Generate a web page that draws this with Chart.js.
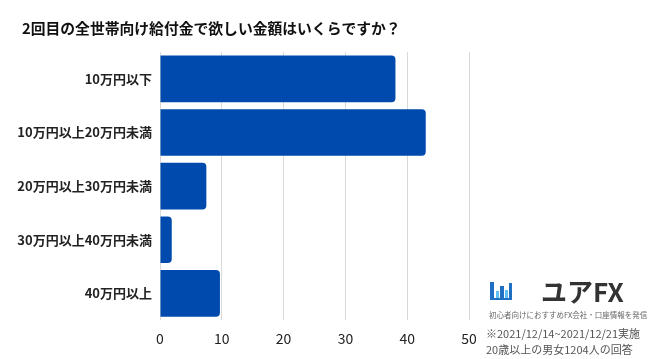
<!DOCTYPE html>
<html><head><meta charset="utf-8">
<script src="https://cdn.jsdelivr.net/npm/chart.js@4"></script>
<style>html,body{margin:0;padding:0;background:#fff}#wrap{width:650px;height:359px;position:relative}</style>
</head><body><div id="wrap"><canvas id="c" width="650" height="359"></canvas></div>
<script>
const categories = ["10万円以下","10万円以上20万円未満","20万円以上30万円未満","30万円以上40万円未満","40万円以上"];
const values = [38.1, 43.0, 7.5, 1.9, 9.7];
const xTicks = [0,10,20,30,40,50];
const titleText = "2回目の全世帯向け給付金で欲しい金額はいくらですか？";
const noteLines = ["※2021/12/14~2021/12/21実施","20歳以上の男女1204人の回答"];

const FONT = '"Noto Sans CJK JP","Noto Sans",sans-serif';

const deco = {
  id:'deco',
  afterDraw(chart){
    const ctx = chart.ctx;
    ctx.save();
    ctx.textBaseline = 'middle';
    ctx.textAlign = 'left';
    ctx.fillStyle = '#111';
    ctx.font = 'bold 14.8px ' + FONT;
    ctx.fillText(titleText, 22, 28);
    const dark = '#1f6fc2', light = '#5cc0f5';
    ctx.fillStyle = dark;
    ctx.fillRect(490,282,4,18);
    ctx.fillRect(490,298,22,2);
    ctx.fillStyle = light; ctx.fillRect(496,291,3,7);
    ctx.fillStyle = dark;  ctx.fillRect(500,286,4,12);
    ctx.fillStyle = light; ctx.fillRect(505,290,3,8);
    ctx.fillStyle = dark;  ctx.fillRect(509,283,3,15);
    ctx.fillStyle = '#333';
    ctx.font = 'bold 26px ' + FONT;
    ctx.fillText('ユアFX', 541, 292);
    ctx.font = '7.5px ' + FONT;
    ctx.fillStyle = '#666';
    ctx.fillText('初心者向けにおすすめFX会社・口座情報を発信', 489, 315);
    ctx.font = '11px ' + FONT;
    ctx.fillStyle = '#555';
    ctx.fillText(noteLines[0], 486, 334);
    ctx.fillText(noteLines[1], 486, 350);
    ctx.restore();
  }
};

new Chart(document.getElementById('c'), {
  type:'bar',
  data:{labels:categories, datasets:[{data:values, backgroundColor:'#004aad', borderRadius:4, borderSkipped:'start', categoryPercentage:0.87, barPercentage:1}]},
  options:{
    indexAxis:'y', responsive:false, animation:false, devicePixelRatio:1,
    layout:{padding:{left:16,right:181,top:52,bottom:2}},
    plugins:{
      legend:{display:false}, tooltip:{enabled:false}, title:{display:false}
    },
    scales:{
      x:{min:0,max:50, afterBuildTicks(a){a.ticks = xTicks.map(v=>({value:v}));},
         grid:{color:'#d9d9d9', drawTicks:false}, border:{display:false},
         ticks:{padding:10, color:'#222', font:{family:FONT,size:14}}},
      y:{grid:{display:false, drawTicks:false}, border:{display:false},
         afterFit(s){ s.width = 144; },
         ticks:{padding:8, color:'#222', font:{family:FONT,size:13,weight:'bold'}}}
    }
  },
  plugins:[deco]
});
</script></body></html>
